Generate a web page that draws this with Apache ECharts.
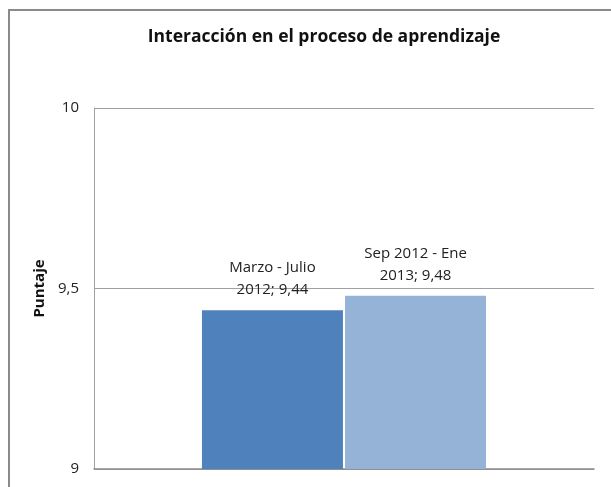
<!DOCTYPE html>
<html><head><meta charset="utf-8">
<script src="https://cdn.jsdelivr.net/npm/echarts@6/dist/echarts.min.js"></script>
<style>html,body{margin:0;padding:0;background:#fff}#c{width:611px;height:487px}</style>
</head><body><div id="c"></div>
<script>
const title = 'Interacción en el proceso de aprendizaje';
const categories = [''];
const seriesNames = ['Marzo - Julio 2012', 'Sep 2012 - Ene 2013'];
const labelNames = ['Marzo - Julio\n2012', 'Sep 2012 - Ene\n2013'];
const values1 = [9.44];
const values2 = [9.48];
const colors = ['#4f81bd', '#95b3d7'];
const yName = 'Puntaje';
const FONT = '"Open Sans", "Noto Sans", sans-serif';
const chart = echarts.init(document.getElementById('c'));
const fmt = v => String(v).replace('.', ',');
function mk(i, data) {
  return {
    name: seriesNames[i], type: 'bar', data: data, barWidth: 141, barGap: '1.5%',
    itemStyle: { color: colors[i] },
    label: { show: true, position: 'top', distance: 9, color: '#222', fontSize: 15, lineHeight: 22, fontFamily: FONT,
      formatter: p => labelNames[i] + '; ' + fmt(p.value) }
  };
}
chart.setOption({
  animation: false,
  title: { text: title, left: 319, top: 23, textAlign: 'center',
    textStyle: { fontSize: 17.5, fontWeight: 'bold', color: '#111', fontFamily: FONT } },
  graphic: [{ type: 'rect', shape: { x: 9, y: 10, width: 700, height: 600 }, style: { fill: 'none', stroke: '#8a8a8a', lineWidth: 2 }, silent: true }],
  grid: { left: 94, right: 17, top: 108, bottom: 18 },
  xAxis: { type: 'category', data: categories, axisTick: { show: false }, axisLabel: { show: false },
    axisLine: { lineStyle: { color: '#8a8a8a', width: 1.5 } } },
  yAxis: { type: 'value', min: 9, max: 10, interval: 0.5, name: yName, nameLocation: 'middle', nameGap: 42,
    nameTextStyle: { fontSize: 15, fontWeight: 'bold', color: '#111', fontFamily: FONT },
    axisLine: { show: true, lineStyle: { color: '#a0a0a0' } }, axisTick: { show: false },
    axisLabel: { formatter: fmt, fontSize: 15, color: '#222', margin: 15, fontFamily: FONT },
    splitLine: { lineStyle: { color: '#a0a0a0' } } },
  series: [mk(0, values1), mk(1, values2)]
});
</script></body></html>
